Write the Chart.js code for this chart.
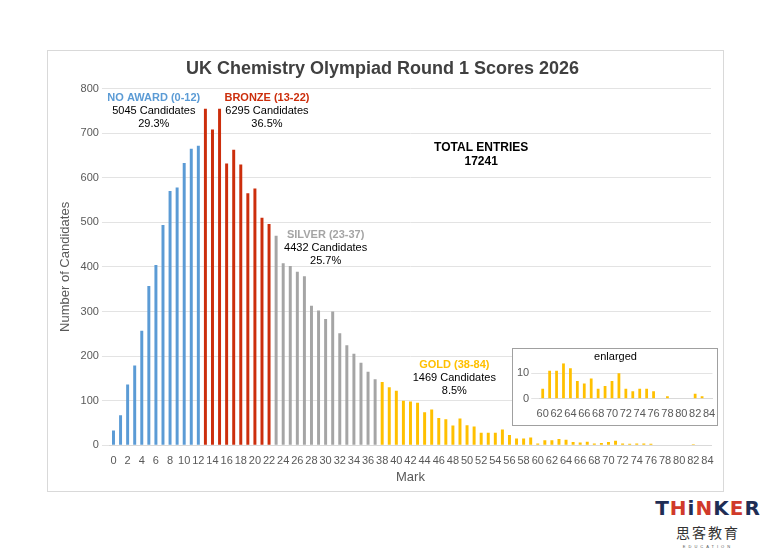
<!DOCTYPE html>
<html><head><meta charset="utf-8">
<script src="https://cdn.jsdelivr.net/npm/chart.js@4"></script>
<style>
body{margin:0;background:#fff;width:780px;height:551px;position:relative;font-family:Arial,"Liberation Sans",sans-serif;overflow:hidden}
#box{position:absolute;left:47px;top:50px;width:677px;height:442px;border:1px solid #d9d9d9;box-sizing:border-box}
#inset{position:absolute;left:512px;top:348px;width:206px;height:78px;border:1.5px solid #a0a0a0;background:#fff;box-sizing:border-box}
#logo{position:absolute;left:652px;top:496px;width:112px;text-align:center;line-height:1}
</style></head><body>
<div id="box"><canvas id="c" width="675" height="440"></canvas></div>
<div id="inset"><canvas id="c2" width="203" height="75"></canvas></div>
<div id="logo">
<div style="font:bold 20px 'DejaVu Sans',sans-serif;letter-spacing:1px;color:#1f2d55">T<span style="color:#d03a2a">H</span>i<span style="color:#d03a2a">N</span>K<span style="color:#d03a2a">E</span>R</div>
<div style="font:14px 'Noto Sans CJK SC';color:#333;letter-spacing:2px;margin-top:2px">思客教育</div>
<div style="font:4px Arial;color:#555;letter-spacing:3px;margin-top:2px">EDUCATION</div>
</div>
<script>
const marks = Array.from({length:85},(_,i)=>i);
const counts = [33,67,136,179,257,357,404,494,570,578,633,665,672,
755,708,755,632,663,630,565,576,510,496,
470,408,402,389,379,313,302,283,300,251,224,205,185,165,148,
142,130,122,100,98,95,74,80,61,58,44,60,45,42,28,28,28,35,23,15,15,17,
4,11,11,14,12,7,6,8,4,5,7,10,4,3,4,4,3,0,1,0,0,0,2,1,0];
const insetStart = 60;
const colBlue='#5b9bd5', colRed='#cc2e0c', colGray='#a5a5a5', colGold='#ffc000';
function col(m){return m<=12?colBlue:m<=22?colRed:m<=37?colGray:colGold;}
const groups=[
 {x:5.7,y:778,t:'NO AWARD (0-12)',c:colBlue,n:'5045 Candidates',p:'29.3%'},
 {x:21.7,y:778,t:'BRONZE (13-22)',c:colRed,n:'6295 Candidates',p:'36.5%'},
 {x:30,y:471,t:'SILVER (23-37)',c:colGray,n:'4432 Candidates',p:'25.7%'},
 {x:48.2,y:179,t:'GOLD (38-84)',c:colGold,n:'1469 Candidates',p:'8.5%'}];
const notes={id:'notes',afterDatasetsDraw(ch){
 const {ctx,scales:{x,y}}=ch;ctx.save();ctx.textAlign='center';ctx.textBaseline='middle';
 groups.forEach(g=>{const px=x.getPixelForValue(g.x),py=y.getPixelForValue(g.y);
  ctx.font='bold 11px Arial';ctx.fillStyle=g.c;ctx.fillText(g.t,px,py);
  ctx.font='11px Arial';ctx.fillStyle='#000';ctx.fillText(g.n,px,py+13);ctx.fillText(g.p,px,py+26);});
 ctx.font='bold 12px Arial';ctx.fillStyle='#000';
 const tx=x.getPixelForValue(52);ctx.fillText('TOTAL ENTRIES',tx,y.getPixelForValue(668));ctx.fillText('17241',tx,y.getPixelForValue(668)+14);
 ctx.restore();}};
Chart.defaults.font.family='Arial, "Liberation Sans", sans-serif';
Chart.defaults.color='#595959';
new Chart(document.getElementById('c'),{type:'bar',
 data:{labels:marks,datasets:[{data:counts,backgroundColor:marks.map(col),barPercentage:0.42,categoryPercentage:1}]},
 options:{responsive:false,animation:false,layout:{padding:{left:6,right:12,top:5,bottom:6}},
  plugins:{legend:{display:false},tooltip:{enabled:false},
   title:{display:true,text:'UK Chemistry Olympiad Round 1 Scores 2026',font:{size:18,weight:'bold'},color:'#404040',padding:{top:2,bottom:9}}},
  scales:{x:{grid:{display:false},border:{color:'#d9d9d9'},ticks:{autoSkip:false,maxRotation:0,padding:1,font:{size:11},callback:(v,i)=>i%2===0?marks[i]:''},
    title:{display:true,text:'Mark',font:{size:13},color:'#595959',padding:{top:1,bottom:0}}},
   y:{min:0,max:800,ticks:{stepSize:100,font:{size:11}},grid:{color:'#e3e3e3'},border:{display:false},
    title:{display:true,text:'Number of Candidates',font:{size:13},color:'#595959'}}}},
 plugins:[notes]});
const im=marks.slice(insetStart), ic=counts.slice(insetStart);
new Chart(document.getElementById('c2'),{type:'bar',
 data:{labels:im,datasets:[{data:ic,backgroundColor:colGold,barPercentage:0.4,categoryPercentage:1}]},
 options:{responsive:false,animation:false,layout:{padding:{left:2,right:0,top:0,bottom:2}},
  plugins:{legend:{display:false},tooltip:{enabled:false},title:{display:true,text:'enlarged',color:'#000',font:{size:11,weight:'normal'},padding:{top:1,bottom:0}}},
  scales:{x:{grid:{display:false},border:{color:'#d9d9d9'},ticks:{autoSkip:false,maxRotation:0,padding:1,font:{size:11},callback:(v,i)=>i%2===0?im[i]:''}},
   y:{min:0,max:14,ticks:{stepSize:1,font:{size:11},padding:2,callback:v=>(v===0||v===10)?v:''},grid:{color:c=>(c.tick&&(c.tick.value===0||c.tick.value===10))?'#e3e3e3':'rgba(0,0,0,0)'},border:{display:false}}}}});
</script></body></html>
